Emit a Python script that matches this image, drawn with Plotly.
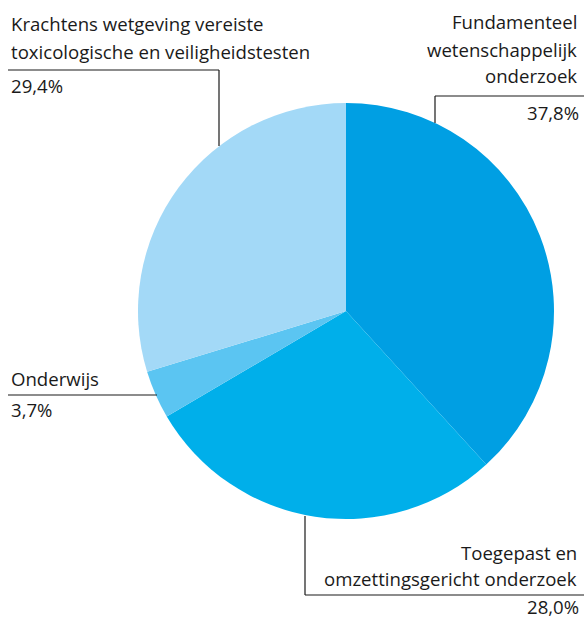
import plotly.graph_objects as go

categories = ["Fundamenteel wetenschappelijk onderzoek",
              "Toegepast en omzettingsgericht onderzoek",
              "Onderwijs",
              "Krachtens wetgeving vereiste toxicologische en veiligheidstesten"]
values = [37.8, 28.0, 3.7, 29.4]
pct_labels = ["37,8%", "28,0%", "3,7%", "29,4%"]
colors = ["#009FE3", "#00AFEA", "#5BC5F2", "#A3D9F7"]

W, H = 584, 619
FONT = "Open Sans"

def px(x):
    return x / W

def py(y):
    return 1 - y / H

fig = go.Figure()
fig.add_trace(go.Pie(
    labels=categories, values=values, sort=False, direction="clockwise",
    rotation=0, marker=dict(colors=colors, line=dict(width=0)),
    textinfo="none", hoverinfo="label+percent", showlegend=False,
    domain=dict(x=[px(138), px(554)], y=[py(519), py(103)]),
))

line = dict(color="#1a1a1a", width=1.2)
segments = [
    # Krachtens
    ((8, 70), (219, 70)), ((219, 70), (219, 146)),
    # Fundamenteel
    ((435, 96), (584, 96)), ((435, 96), (435, 123)),
    # Onderwijs
    ((8, 395), (157, 395)),
    # Toegepast
    ((305, 516), (305, 595)), ((305, 595), (584, 595)),
]
for (x0, y0), (x1, y1) in segments:
    fig.add_shape(type="line", xref="paper", yref="paper",
                  x0=px(x0), y0=py(y0), x1=px(x1), y1=py(y1), line=line)

def txt(s, x, y, anchor):
    fig.add_annotation(text=s, xref="paper", yref="paper", x=px(x), y=py(y),
                       xanchor=anchor, yanchor="middle", showarrow=False,
                       font=dict(family=FONT, size=18.6, color="#1a1a1a"))

# Krachtens
txt("Krachtens wetgeving vereiste", 9, 24, "left")
txt("toxicologische en veiligheidstesten", 9, 51, "left")
txt(pct_labels[3], 9, 86, "left")
# Fundamenteel
txt("Fundamenteel", 579, 22, "right")
txt("wetenschappelijk", 579, 49, "right")
txt("onderzoek", 579, 76, "right")
txt(pct_labels[0], 581, 112, "right")
# Onderwijs
txt("Onderwijs", 9, 378, "left")
txt(pct_labels[2], 9, 409, "left")
# Toegepast
txt("Toegepast en", 579, 552, "right")
txt("omzettingsgericht onderzoek", 579, 578, "right")
txt(pct_labels[1], 581, 606, "right")

fig.update_layout(width=W, height=H, margin=dict(l=0, r=0, t=0, b=0),
                  paper_bgcolor="white", plot_bgcolor="white")
fig.write_html("out.html", config={"displayModeBar": False},
               post_script="document.body.style.margin='0';document.body.style.overflow='hidden';")
